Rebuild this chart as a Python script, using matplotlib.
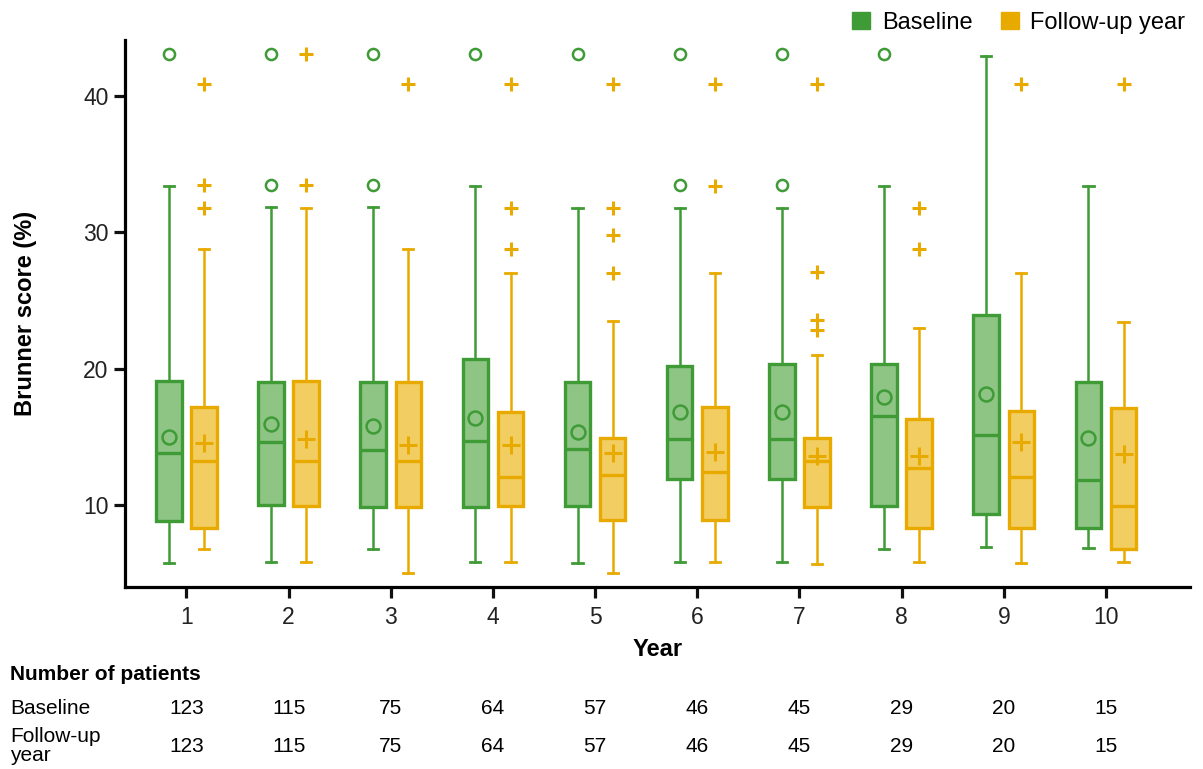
import matplotlib.pyplot as plt
from matplotlib.patches import Patch

plt.rcParams['font.family'] = ['Liberation Sans', 'DejaVu Sans']

years = [1, 2, 3, 4, 5, 6, 7, 8, 9, 10]
n_baseline = [123, 115, 75, 64, 57, 46, 45, 29, 20, 15]
n_followup = [123, 115, 75, 64, 57, 46, 45, 29, 20, 15]

# baseline box stats per year
base_low = [5.7, 5.8, 6.7, 5.8, 5.7, 5.8, 5.8, 6.7, 6.9, 6.8]
base_q1 = [8.8, 10.0, 9.8, 9.8, 9.9, 11.9, 11.9, 9.9, 9.3, 8.3]
base_med = [13.8, 14.6, 14.0, 14.7, 14.1, 14.8, 14.8, 16.5, 15.1, 11.8]
base_q3 = [19.1, 19.0, 19.0, 20.7, 19.0, 20.2, 20.3, 20.3, 23.9, 19.0]
base_high = [33.4, 31.9, 31.9, 33.4, 31.8, 31.8, 31.8, 33.4, 43.0, 33.4]
base_mean = [15.0, 15.9, 15.8, 16.4, 15.3, 16.8, 16.8, 17.9, 18.1, 14.9]
base_fliers = [[43.1], [43.1, 33.5], [43.1, 33.5], [43.1], [43.1],
               [43.1, 33.5], [43.1, 33.5], [43.1], [], []]

# follow-up box stats per year
fu_low = [6.7, 5.8, 5.0, 5.8, 5.0, 5.8, 5.6, 5.8, 5.7, 5.8]
fu_q1 = [8.3, 9.9, 9.8, 9.9, 8.9, 8.9, 9.8, 8.3, 8.3, 6.7]
fu_med = [13.2, 13.2, 13.2, 12.0, 12.2, 12.4, 13.2, 12.7, 12.0, 9.9]
fu_q3 = [17.2, 19.1, 19.0, 16.8, 14.9, 17.2, 14.9, 16.3, 16.9, 17.1]
fu_high = [28.8, 31.8, 28.8, 27.0, 23.5, 27.0, 21.0, 23.0, 27.0, 23.4]
fu_mean = [14.5, 14.8, 14.4, 14.4, 13.8, 13.9, 13.6, 13.6, 14.6, 13.7]
fu_fliers = [[40.9, 33.5, 31.8], [43.1, 33.5], [40.9], [40.9, 31.8, 28.8],
             [40.9, 31.8, 29.8, 27.0], [40.9, 33.4], [40.9, 27.1, 23.6, 22.8],
             [31.8, 28.8], [40.9], [40.9]]

green_edge = '#3e9b36'
green_fill = '#8ec585'
yellow_edge = '#e9aa00'
yellow_fill = '#f2cd62'


def make_stats(low, q1, med, q3, high, mean, fliers):
    stats = []
    for i in range(len(low)):
        stats.append({'whislo': low[i], 'q1': q1[i], 'med': med[i], 'q3': q3[i],
                      'whishi': high[i], 'mean': mean[i], 'fliers': fliers[i]})
    return stats


fig = plt.figure(figsize=(12.03, 7.69), dpi=100)
ax = fig.add_axes([0.104, 0.237, 0.885, 0.711])

offset = 0.172
width = 0.25
groups = [
    (make_stats(base_low, base_q1, base_med, base_q3, base_high, base_mean, base_fliers),
     -offset, green_edge, green_fill, 'o'),
    (make_stats(fu_low, fu_q1, fu_med, fu_q3, fu_high, fu_mean, fu_fliers),
     offset, yellow_edge, yellow_fill, '+'),
]
for stats, off, edge, fill, mk in groups:
    if mk == 'o':
        flier = dict(marker='o', markerfacecolor='none', markeredgecolor=edge,
                     markersize=8, markeredgewidth=1.8)
        meanp = dict(marker='o', markerfacecolor='none', markeredgecolor=edge,
                     markersize=10, markeredgewidth=1.8)
    else:
        flier = dict(marker='+', markeredgecolor=edge, markersize=10,
                     markeredgewidth=2.2)
        meanp = dict(marker='+', markeredgecolor=edge, markersize=13,
                     markeredgewidth=2.2)
    ax.bxp(stats, positions=[y + off for y in years], widths=width,
           patch_artist=True, showmeans=True, capwidths=0.1,
           boxprops=dict(facecolor=fill, edgecolor=edge, linewidth=2.4),
           medianprops=dict(color=edge, linewidth=2.4),
           whiskerprops=dict(color=edge, linewidth=1.8),
           capprops=dict(color=edge, linewidth=2.0),
           flierprops=flier, meanprops=meanp, manage_ticks=False)

ax.set_xlim(0.4, 10.82)
ax.set_ylim(3.96, 44.15)
ax.set_xticks(years)
ax.set_xticklabels([str(y) for y in years])
ax.set_yticks([10, 20, 30, 40])
for s in ['top', 'right']:
    ax.spines[s].set_visible(False)
for s in ['left', 'bottom']:
    ax.spines[s].set_linewidth(2.3)
ax.tick_params(axis='both', direction='out', length=8, width=2.3,
               labelsize=16.5, colors='#111111', labelcolor='#222222')
ax.tick_params(axis='x', pad=6)
ax.tick_params(axis='y', pad=4)
ax.set_ylabel('Brunner score (%)', fontsize=17, fontweight='bold', labelpad=33)
ax.set_xlabel('Year', fontsize=17, fontweight='bold', labelpad=6)

handles = [Patch(facecolor=green_edge, edgecolor=green_edge, label='Baseline'),
           Patch(facecolor=yellow_edge, edgecolor=yellow_edge, label='Follow-up year')]
fig.legend(handles=handles, loc='upper right', bbox_to_anchor=(1.003, 1.012), ncol=2,
           frameon=False, fontsize=17, handlelength=0.75, handleheight=0.75,
           handletextpad=0.5, columnspacing=1.2)

# table of patient numbers
fig.text(10 / 1203, 1 - 674 / 769, 'Number of patients', fontsize=15,
         fontweight='bold', va='center', ha='left')
fig.text(10 / 1203, 1 - 708 / 769, 'Baseline', fontsize=15, va='center', ha='left')
fig.text(10 / 1203, 1 - 746 / 769, 'Follow-up\nyear', fontsize=15, va='center',
         ha='left', linespacing=0.95)
for i, y in enumerate(years):
    xf = fig.transFigure.inverted().transform(ax.transData.transform((y, 0)))[0]
    fig.text(xf, 1 - 708 / 769, str(n_baseline[i]), fontsize=15, va='center', ha='center')
    fig.text(xf, 1 - 747 / 769, str(n_followup[i]), fontsize=15, va='center', ha='center')

fig.savefig('out.png', dpi=100)
